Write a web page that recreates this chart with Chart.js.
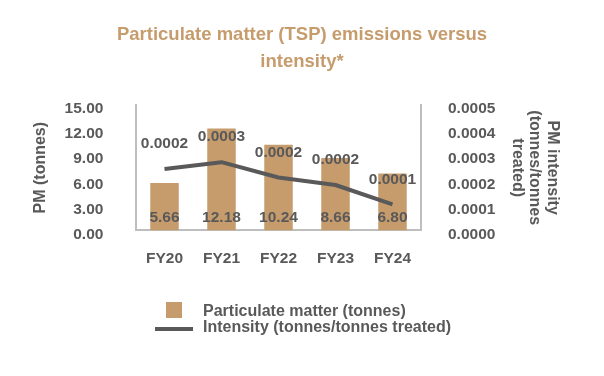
<!DOCTYPE html>
<html>
<head>
<meta charset="utf-8">
<script src="https://cdn.jsdelivr.net/npm/chart.js@4/dist/chart.umd.min.js"></script>
<style>
  body { margin: 0; background: #fff; }
  #wrap { position: relative; width: 604px; height: 376px; font-family: "Liberation Sans", Arial, sans-serif; }
  #chart { display: block; }
  #legend .box { position: absolute; }
  #legend .txt { position: absolute; left: 203px; font-weight: bold; font-size: 16px; line-height: 16px; color: #595959; white-space: nowrap; }
</style>
</head>
<body>
<div id="wrap">
  <canvas id="chart" width="604" height="376"></canvas>
  <div id="legend"></div>
</div>
<script>
// data
var years = ['FY20', 'FY21', 'FY22', 'FY23', 'FY24'];
var pmTonnes = [5.66, 12.18, 10.24, 8.66, 6.80];
var pmIntensity = [0.000245, 0.000272, 0.000211, 0.000181, 0.000104];
var seriesNames = ['Particulate matter (tonnes)', 'Intensity (tonnes/tonnes treated)'];
var titleLines = ['Particulate matter (TSP) emissions versus', 'intensity*'];
var leftTitle = 'PM (tonnes)';
var rightTitle = ['PM intensity', '(tonnes/tonnes', 'treated)'];

var tan = '#C69C6D';
var grey = '#595959';
var axisGrey = '#BEBEBE';
var fam = '"Liberation Sans", Arial, sans-serif';

// value labels, drawn after the datasets
var valueLabels = {
  id: 'valueLabels',
  afterDatasetsDraw: function (chart) {
    var ctx = chart.ctx;
    ctx.save();
    ctx.font = 'bold 15.5px ' + fam;
    ctx.fillStyle = grey;
    ctx.textAlign = 'center';
    ctx.textBaseline = 'middle';
    chart.getDatasetMeta(0).data.forEach(function (bar, i) {
      ctx.fillText(pmTonnes[i].toFixed(2), bar.x, chart.chartArea.bottom - 13);
    });
    chart.getDatasetMeta(1).data.forEach(function (pt, i) {
      ctx.fillText(pmIntensity[i].toFixed(4), pt.x, pt.y - 25);
    });
    ctx.restore();
  }
};

var ctx = document.getElementById('chart').getContext('2d');
var chart = new Chart(ctx, {
  type: 'bar',
  data: {
    labels: years,
    datasets: [{
      type: 'bar',
      label: seriesNames[0],
      data: pmTonnes,
      backgroundColor: tan,
      yAxisID: 'y',
      order: 2,
      barPercentage: 0.5,
      categoryPercentage: 1
    }, {
      type: 'line',
      label: seriesNames[1],
      data: pmIntensity,
      borderColor: grey,
      backgroundColor: grey,
      borderWidth: 4,
      pointRadius: 0,
      borderJoinStyle: 'round',
      tension: 0,
      yAxisID: 'y1',
      order: 1
    }]
  },
  options: {
    responsive: false,
    animation: false,
    devicePixelRatio: 1,
    layout: { padding: { top: 0, left: 32, right: 32, bottom: 107 } },
    plugins: {
      legend: { display: false },
      tooltip: { enabled: false },
      title: {
        display: true,
        text: titleLines,
        color: tan,
        font: { family: fam, size: 18.5, weight: 'bold', lineHeight: 27 / 18.5 },
        padding: { top: 21.5, bottom: 29.5 }
      }
    },
    scales: {
      x: {
        grid: { display: false, drawTicks: false },
        border: { display: true, color: axisGrey, width: 2 },
        ticks: { color: grey, padding: 19.5, font: { family: fam, size: 15.5, weight: 'bold' } },
        afterFit: function (s) { s.height = 38.6; }
      },
      y: {
        position: 'left',
        min: 0,
        max: 15,
        grid: { display: false, drawTicks: false },
        border: { display: true, color: axisGrey, width: 2 },
        ticks: {
          stepSize: 3,
          autoSkip: false,
          color: grey,
          padding: 32.6,
          labelOffset: 4,
          font: { family: fam, size: 15.5, weight: 'bold' },
          callback: function (v) { return Number(v).toFixed(2); }
        },
        title: {
          display: true,
          text: leftTitle,
          color: grey,
          font: { family: fam, size: 16, weight: 'bold', lineHeight: 1.1 },
          padding: { top: 0, bottom: 15 }
        },
        afterFit: function (s) { s.width = 104; }
      },
      y1: {
        position: 'right',
        min: 0,
        max: 0.0005,
        grid: { display: false, drawTicks: false },
        border: { display: true, color: axisGrey, width: 2 },
        ticks: {
          stepSize: 0.0001,
          autoSkip: false,
          color: grey,
          padding: 27,
          labelOffset: 4,
          font: { family: fam, size: 15.5, weight: 'bold' },
          callback: function (v) { return Number(v).toFixed(4); }
        },
        title: {
          display: true,
          text: rightTitle,
          color: grey,
          font: { family: fam, size: 16, weight: 'bold', lineHeight: 1.1 },
          padding: { top: 10.8, bottom: 13 }
        },
        afterFit: function (s) { s.width = 151; }
      }
    }
  },
  plugins: [valueLabels]
});

// legend, two stacked rows like the original
var legend = document.getElementById('legend');
var sq = document.createElement('div');
sq.className = 'box';
sq.style.cssText = 'left:166px;top:302px;width:16px;height:16px;background:' + chart.data.datasets[0].backgroundColor;
legend.appendChild(sq);
var ln = document.createElement('div');
ln.className = 'box';
ln.style.cssText = 'left:155px;top:326.5px;width:38px;height:4px;background:' + chart.data.datasets[1].borderColor;
legend.appendChild(ln);
chart.data.datasets.forEach(function (ds, i) {
  var t = document.createElement('div');
  t.className = 'txt';
  t.style.top = (i === 0 ? 302.5 : 318.5) + 'px';
  t.textContent = ds.label;
  legend.appendChild(t);
});
</script>
</body>
</html>
